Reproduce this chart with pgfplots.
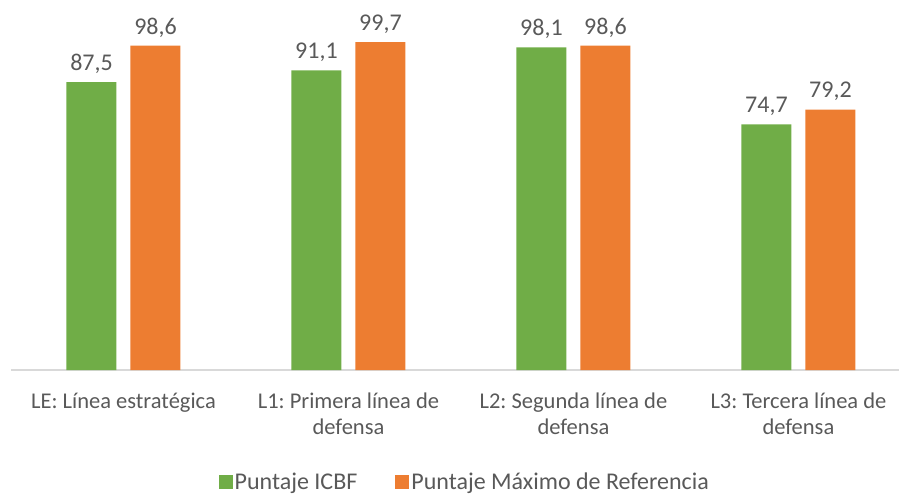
\documentclass[border=0pt]{standalone}
\usepackage{pgfplots}
\pgfplotsset{compat=1.18}
\usepackage{fontspec}
\setmainfont{Carlito}
\frenchspacing
\definecolor{cgreen}{HTML}{70AD47}
\definecolor{corange}{HTML}{ED7D31}
\definecolor{ctext}{HTML}{595959}
\definecolor{caxis}{HTML}{D9D9D9}
\begin{document}
\begin{tikzpicture}
\begin{axis}[
  scale only axis,
  width=888pt, height=370pt,
  xmin=-0.5, xmax=3.447,
  ymin=0, ymax=112.5,
  axis x line*=bottom,
  axis y line=none,
  x axis line style={draw=caxis, line width=1.2pt, -},
  xtick={0,1,2,3},
  xticklabels={{LE: Línea estratégica},{L1: Primera línea de\\defensa},{L2: Segunda línea de\\defensa},{L3: Tercera línea de\\defensa}},
  xtick style={draw=none},
  xticklabel style={align=center, font=\fontsize{22.5}{26}\selectfont\frenchspacing, text=ctext, yshift=-15pt},
  ytick=\empty,
  ybar, bar width=50pt,
  nodes near coords,
  nodes near coords style={font=\fontsize{24}{26}\selectfont, text=ctext, yshift=5pt},
  /pgf/number format/assume math mode=true,
  /pgf/number format/use comma, /pgf/number format/fixed, /pgf/number format/fixed zerofill, /pgf/number format/precision=1,
  legend style={at={(0.511,-125pt)}, anchor=south, draw=none, legend columns=2, font=\fontsize{24}{26}\selectfont, text=ctext, /tikz/every even column/.append style={column sep=36pt}},
  legend image code/.code={\fill[#1] (0pt,-7pt) rectangle (14pt,7pt);},
]
\addplot[fill=cgreen, draw=none, bar shift=-32pt] coordinates {(0,87.5) (1,91.1) (2,98.1) (3,74.7)};
\addplot[fill=corange, draw=none, bar shift=32pt] coordinates {(0,98.6) (1,99.7) (2,98.6) (3,79.2)};
\legend{Puntaje ICBF, Puntaje Máximo de Referencia}
\end{axis}
\pgfresetboundingbox
\path (-11pt,-125pt) rectangle (891pt,370pt);
\end{tikzpicture}
\end{document}
